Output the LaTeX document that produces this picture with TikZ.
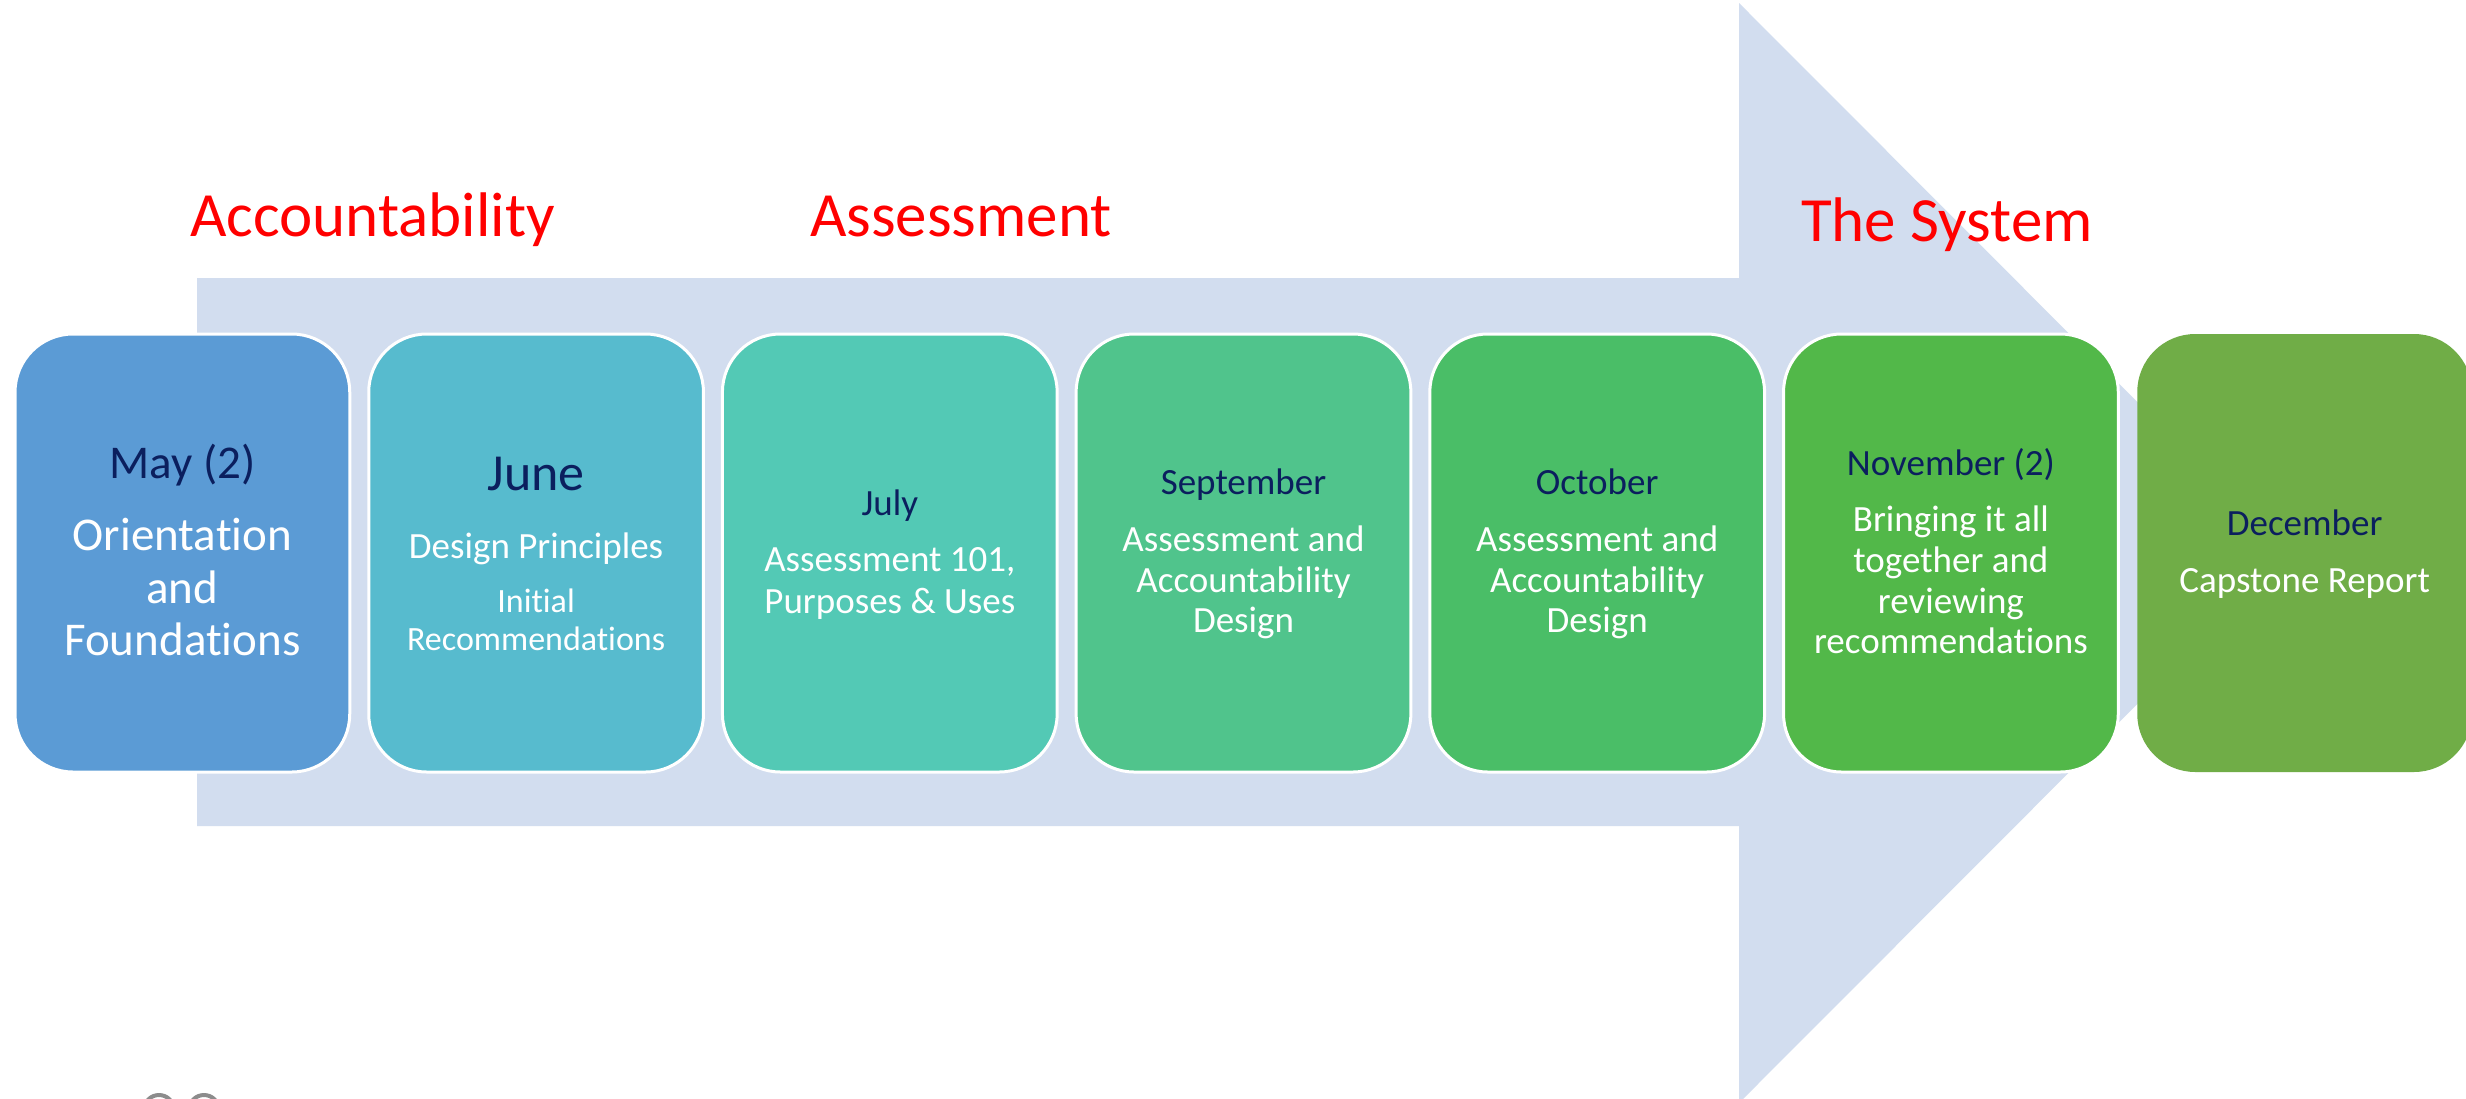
\documentclass[tikz,border=0pt]{standalone}
\usepackage{fontspec}
\setmainfont{Carlito}[Ligatures=NoCommon]
\definecolor{arrowc}{HTML}{D2DDEF}
\definecolor{navy}{HTML}{0B1F5E}
\definecolor{cmay}{HTML}{5B9BD5}
\definecolor{cjun}{HTML}{57BBCE}
\definecolor{cjul}{HTML}{53C9B5}
\definecolor{csep}{HTML}{50C48C}
\definecolor{coct}{HTML}{4ABE67}
\definecolor{cnov}{HTML}{52B849}
\definecolor{cdec}{HTML}{70AD47}
\definecolor{redc}{HTML}{FF0000}
\begin{document}
\begin{tikzpicture}[x=1pt,y=-1pt,
  box/.style={rectangle, rounded corners=58pt, draw=white, line width=3pt,
    minimum width=334.7pt, minimum height=438pt, inner sep=0pt},
  ttl/.style={anchor=base, inner sep=0pt, text=navy},
  txt/.style={anchor=base, inner sep=0pt, text=white},
  lbl/.style={anchor=base west, inner sep=0pt, text=redc, font=\fontsize{63}{70}\selectfont},
  fA/.style={font=\fontsize{47}{53}\selectfont},
  fB/.style={font=\fontsize{37}{41}\selectfont},
  fC/.style={font=\fontsize{34}{38}\selectfont},
  fD/.style={font=\fontsize{52}{58}\selectfont}]
\useasboundingbox (0,0) rectangle (2466,1098);
\clip (0,0) rectangle (2466,1098);
\fill[white] (0,0) rectangle (2466,1098);
% big arrow
\fill[arrowc] (197,278) -- (1739,278) -- (1739,3) -- (2288,553) -- (1739,1103) -- (1739,826) -- (197,826) -- cycle;
% section labels
\node[lbl] (lacc) at (190,236) {Accountability};
\node[lbl] (lass) at (810,236) {Assessment};
\node[lbl] (lsys) at (1801,241) {The System};
% boxes
\node[box, fill=cmay] (b1) at (182.4,553) {};
\node[box, fill=cjun] (b2) at (536.1,553) {};
\node[box, fill=cjul] (b3) at (889.8,553) {};
\node[box, fill=csep] (b4) at (1243.5,553) {};
\node[box, fill=coct] (b5) at (1597.2,553) {};
\node[box, fill=cnov] (b6) at (1950.9,553) {};
\node[box, fill=cdec, draw=none] (b7) at (2304.6,553) {};
% May
\node[ttl, fA] (t1a) at (182.4,478) {May (2)};
\node[txt, fA] (t1b) at (182.4,550) {Orientation};
\node[txt, fA] (t1c) at (182.4,603) {and};
\node[txt, fA] (t1d) at (182.4,655) {Foundations};
% June
\node[ttl, fD] (t2a) at (536.1,490) {June};
\node[txt, fB] (t2b) at (536.1,558) {Design Principles};
\node[txt, fC] (t2c) at (536.1,612) {Initial};
\node[txt, fC] (t2d) at (536.1,650) {Recommendations};
% July
\node[ttl, fB] (t3a) at (889.8,515) {July};
\node[txt, fB] (t3b) at (889.8,571) {Assessment 101,};
\node[txt, fB] (t3c) at (889.8,613) {Purposes \& Uses};
% September
\node[ttl, fB] (t4a) at (1243.5,494) {September};
\node[txt, fB] (t4b) at (1243.5,551) {Assessment and};
\node[txt, fB] (t4c) at (1243.5,592) {Accountability};
\node[txt, fB] (t4d) at (1243.5,632) {Design};
% October
\node[ttl, fB] (t5a) at (1597.2,494) {October};
\node[txt, fB] (t5b) at (1597.2,551) {Assessment and};
\node[txt, fB] (t5c) at (1597.2,592) {Accountability};
\node[txt, fB] (t5d) at (1597.2,632) {Design};
% November
\node[ttl, fB] (t6a) at (1950.9,475) {November (2)};
\node[txt, fB] (t6b) at (1950.9,531) {Bringing it all};
\node[txt, fB] (t6c) at (1950.9,572) {together and};
\node[txt, fB] (t6d) at (1950.9,613) {reviewing};
\node[txt, fB] (t6e) at (1950.9,653) {recommendations};
% December
\node[ttl, fB] (t7a) at (2304.6,535) {December};
\node[txt, fB] (t7b) at (2304.6,592) {Capstone Report};
% partial grey rings at bottom left
\draw[gray!90, line width=4pt] (159,1110) circle (15);
\draw[gray!90, line width=4pt] (204,1110) circle (15);
\end{tikzpicture}
\end{document}
